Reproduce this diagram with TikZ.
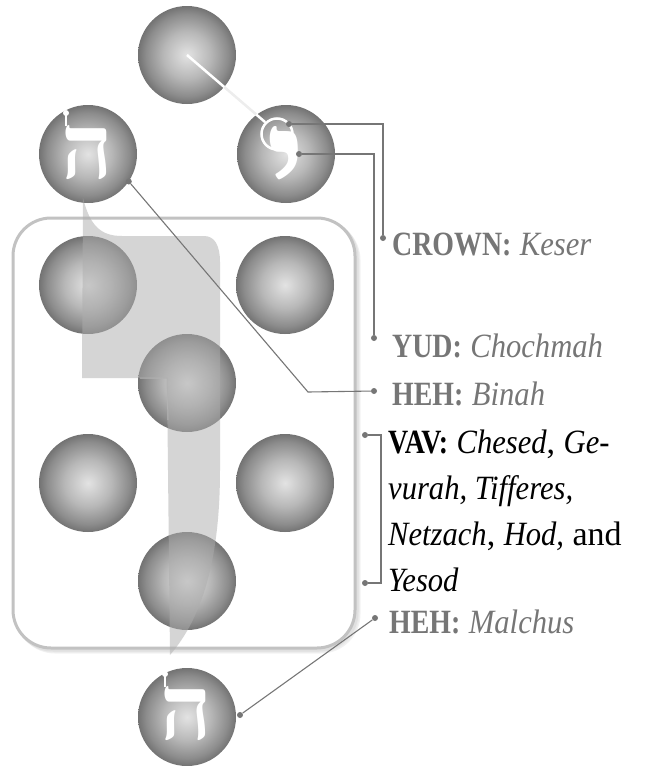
\documentclass[tikz,border=0pt]{standalone}
\usepackage{fontspec}
\setmainfont{Liberation Serif}[BoldFeatures={FakeStretch=0.82},ItalicFeatures={FakeStretch=0.9}]
\newfontfamily\hebfont[Script=Hebrew]{Liberation Serif}
\usetikzlibrary{calc}
\definecolor{labelgray}{RGB}{118,118,118}
\pgfdeclareradialshading{sphere}{\pgfpoint{0bp}{0bp}}{color(0bp)=(black!11); color(12bp)=(black!28); color(21bp)=(black!45); color(25bp)=(black!55); color(50bp)=(black!55)}
\tikzset{
    sefira/.style={circle, minimum size=98pt, inner sep=0pt, shading=sphere},
    letter/.style={text=white, inner sep=0pt, font=\hebfont\bfseries\fontsize{90}{90}\selectfont},
    leader/.style={draw=labelgray, line width=1.1pt},
    tip/.style={circle, fill=labelgray, inner sep=0pt, minimum size=6pt},
    graylabel/.style={text=labelgray, anchor=base west, inner sep=0pt, font=\fontsize{34}{46}\selectfont},
    vavshape/.style={fill=black!32, fill opacity=0.5},
    frame/.style={rounded corners=38pt, line width=3pt}
}

\begin{document}
\begin{tikzpicture}[x=1pt, y=-1pt]
    \useasboundingbox (0,0) rectangle (651,766);
    % frame round the lower seven
    \foreach \s/\c in {4/5,3/8,2/12}
        \draw[frame, black!\c, shift={(\s,\s)}] (13,218) rectangle (355,648);
    \draw[frame, draw=black!24, fill=white] (13,218) rectangle (355,648);

    \node[sefira] (keser) at (187,55) {};
    \node[sefira] (chochmah) at (286,154) {};
    \node[sefira] (binah) at (88,154) {};
    \node[sefira] (chesed) at (285,285) {};
    \node[sefira] (gevurah) at (88,285) {};
    \node[sefira] (tifferes) at (187,383) {};
    \node[sefira] (netzach) at (285,483) {};
    \node[sefira] (hod) at (88,483) {};
    \node[sefira] (yesod) at (187,581) {};
    \node[sefira] (malchus) at (187,717) {};

    % the vav
    \fill[vavshape] (83,198) .. controls (90,226) and (101,236) .. (122,236) -- (204,236)
        .. controls (215,236) and (220,246) .. (220,262) -- (220,470)
        .. controls (220,560) and (202,618) .. (170,655) -- (167,378) -- (82,378) -- cycle;
    \draw[black!30, line width=1pt] (140,378) -- (167,378) -- (168,420);

    % yud with the crown
    \node[draw=white, circle, line width=2.5pt, minimum size=31pt, inner sep=0pt] (ring) at (277,134) {};
    \draw[white, line width=2.5pt] (keser.center) -- (ring.135);
    \draw[black!7, line width=2.5pt, shorten <=49pt, shorten >=12pt] (keser.center) -- (ring.135);
    \node[letter, font=\hebfont\bfseries\fontsize{150}{150}\selectfont, anchor=north] (yud) at (286,126) {י};

    % the two hehs
    \node[letter] (hehbinah) at (87,153) {ה};
    \draw[white, line width=1.5pt] (66,126) -- (66,114);
    \fill[white] (66,113) circle (3);
    \node[letter] (hehmalchus) at (186,714) {ה};
    \draw[white, line width=1.5pt] (165,687) -- (165,675);
    \fill[white] (165,674) circle (3);

    % labels
    \node[tip] (crowna) at (289,124) {};
    \node[tip] (crownb) at (383,238) {};
    \draw[leader] (crowna) -| (crownb);
    \node[graylabel] (crown) at (392,255) {\textbf{CROWN:} \textit{Keser}};

    \node[tip] (yuda) at (299,154) {};
    \node[tip] (yudb) at (374,338) {};
    \draw[leader] (yuda) -| (yudb);
    \node[graylabel] (yudlabel) at (392,357) {\textbf{YUD:} \textit{Chochmah}};

    \node[tip] (binaha) at (binah.-34) {};
    \coordinate (binahbend) at (308,392);
    \node[tip] (binahb) at (374,391) {};
    \draw[leader] (binaha) -- (binahbend) -- (binahb);
    \node[graylabel] (binahlabel) at (392,405) {\textbf{HEH:} \textit{Binah}};

    \node[tip] (vava) at (365,435) {};
    \node[tip] (vavb) at (365,583) {};
    \draw[leader] (vava) -- ++(16,0) |- (vavb);
    \node[anchor=north west, inner sep=0pt, align=left, font=\fontsize{34}{46}\selectfont] (vavlabel) at (388,430)
        {\textbf{VAV:} \textit{Chesed}, \textit{Ge-}\\\textit{vurah, Tifferes,}\\\textit{Netzach}, \textit{Hod,} and\\\textit{Yesod}};

    \node[tip] (malchusa) at (240,715) {};
    \node[tip] (malchusb) at (375,618) {};
    \draw[leader] (malchusa) -- (malchusb);
    \node[graylabel] (malchuslabel) at (389,633) {\textbf{HEH:} \textit{Malchus}};
\end{tikzpicture}
\end{document}
